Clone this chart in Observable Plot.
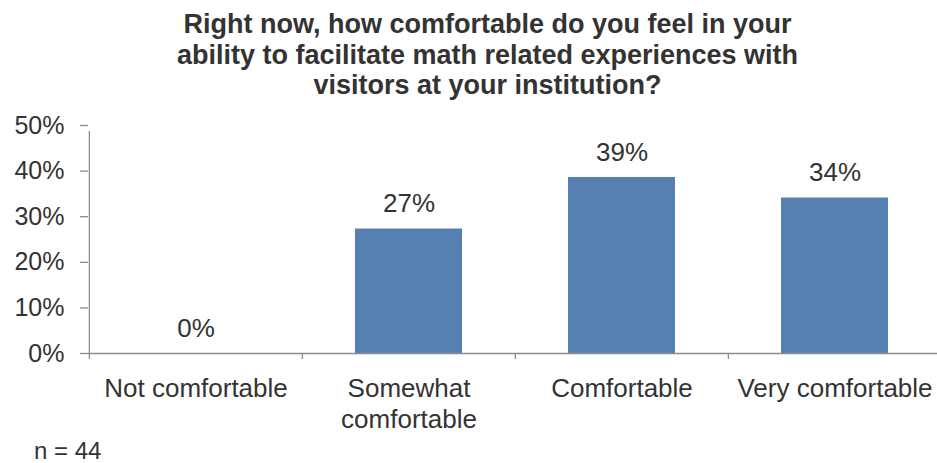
<!DOCTYPE html>
<html><head><meta charset="utf-8">
<script src="https://cdn.jsdelivr.net/npm/d3@7"></script>
<script src="https://cdn.jsdelivr.net/npm/@observablehq/plot@0.6"></script>
<style>
body{margin:0;background:#fff;font-family:"Liberation Sans",Arial,sans-serif;}
#wrap{position:relative;width:937px;height:463px;overflow:hidden;background:#fff}
#chart{position:absolute;left:0;top:0}
#title{position:absolute;left:0;top:9px;width:975px;text-align:center;font-weight:bold;font-size:27px;line-height:30.5px;color:#333}
#note{position:absolute;left:34px;top:441px;font-size:24px;line-height:20px;color:#333;white-space:nowrap}
</style></head><body>
<div id="wrap"><div id="chart"></div>
<div id="title">Right now, how comfortable do you feel in your<br>ability to facilitate math related experiences with<br>visitors at your institution?</div>
<div id="note">n = 44</div></div>
<script>
const categories = ["Not comfortable", "Somewhat comfortable", "Comfortable", "Very comfortable"];
const categoryLabels = ["Not comfortable", "Somewhat\ncomfortable", "Comfortable", "Very comfortable"];
const values = [0, 0.273, 0.386, 0.341];
const valueLabels = ["0%", "27%", "39%", "34%"];
const yTicks = [0, 0.1, 0.2, 0.3, 0.4, 0.5];

const data = categories.map((c, i) => ({category: c, value: values[i], label: valueLabels[i], tick: categoryLabels[i]}));
const W = 937, H = 463, left = 88, right = 941;
const step = (right - left) / categories.length;
const axisColor = "#8c8c8c", textColor = "#333";

const chart = Plot.plot({
  width: W, height: H,
  marginLeft: left, marginRight: 0, marginTop: 125, marginBottom: 110,
  style: {fontFamily: "Liberation Sans, Arial, sans-serif", color: textColor, background: "white"},
  x: {domain: categories, range: [left, right], paddingInner: 0.5, paddingOuter: 0.25, axis: null},
  y: {domain: [0, 0.5], axis: null},
  marks: [
    Plot.barY(data, {x: "category", y: "value", fill: "#5580B1"}),
    Plot.ruleY([0], {stroke: axisColor, strokeWidth: 1.3}),
    Plot.ruleX([categories[0]], {x: d => d, dx: -step / 2, y1: 0, y2: 0.5, insetBottom: -6, stroke: axisColor, strokeWidth: 1.3}),
    Plot.ruleX(data, {x: "category", dx: -step / 2, y1: 0, y2: 0, insetBottom: -6, stroke: axisColor, strokeWidth: 1.3}),
    Plot.axisY({ticks: yTicks, tickFormat: d3.format(".0%"), label: null, tickSize: 8, tickPadding: 16, fontSize: 25, stroke: axisColor, strokeWidth: 1.3, fill: textColor}),
    Plot.text(data, {x: "category", y: "value", text: "label", dy: -25, fontSize: 26, fill: textColor}),
    Plot.text(data, {x: "category", frameAnchor: "bottom", text: "tick", lineAnchor: "top", dy: 22, fontSize: 26, lineHeight: 1.17, fill: textColor})
  ]
});
document.getElementById("chart").appendChild(chart);
</script>
</body></html>
